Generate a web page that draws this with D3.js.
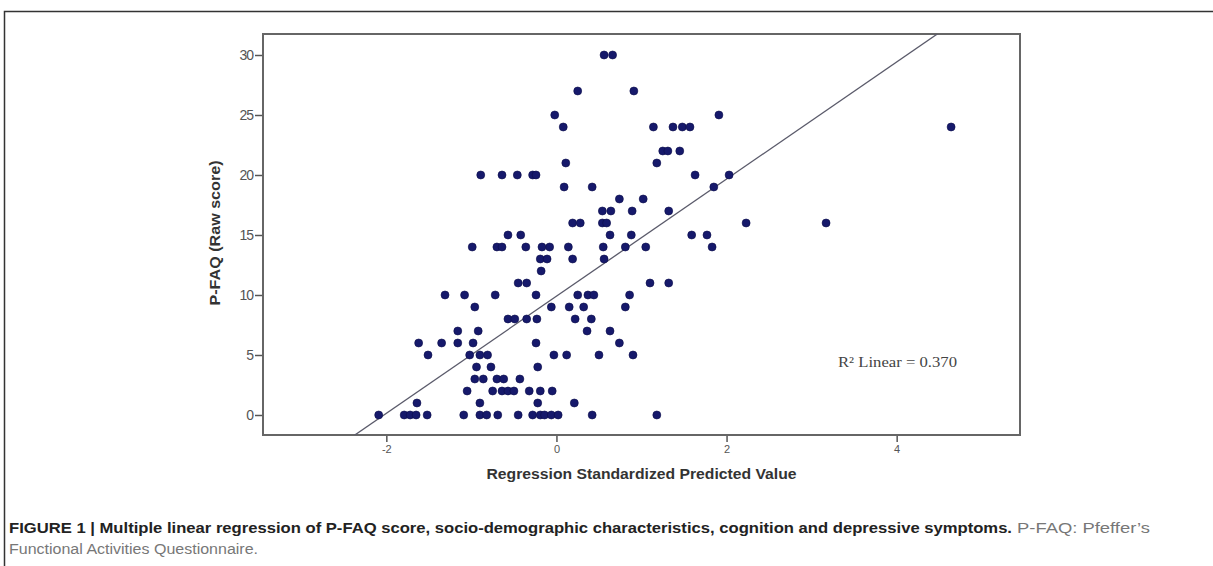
<!DOCTYPE html>
<html>
<head>
<meta charset="utf-8">
<script src="https://cdn.jsdelivr.net/npm/d3@7"></script>
<style>
  body { margin: 0; background: #fff; }
  svg { display: block; }
</style>
</head>
<body>
<div id="chart"></div>
<script>
// P-FAQ raw score (y) for each case, grouped by score
const pfaq = [
  30, 30,
  27, 27,
  25, 25,
  24, 24, 24, 24, 24, 24,
  22, 22, 22,
  21, 21,
  20, 20, 20, 20, 20, 20, 20,
  19, 19, 19,
  18, 18,
  17, 17, 17, 17,
  16, 16, 16, 16, 16, 16,
  15, 15, 15, 15, 15, 15,
  14, 14, 14, 14, 14, 14, 14, 14, 14, 14, 14,
  13, 13, 13, 13,
  12,
  11, 11, 11, 11,
  10, 10, 10, 10, 10, 10, 10, 10,
  9, 9, 9, 9, 9,
  8, 8, 8, 8, 8, 8,
  7, 7, 7, 7,
  6, 6, 6, 6, 6, 6,
  5, 5, 5, 5, 5, 5, 5, 5,
  4, 4, 4,
  3, 3, 3, 3, 3,
  2, 2, 2, 2, 2, 2, 2, 2,
  1, 1, 1, 1,
  0, 0, 0, 0, 0, 0, 0, 0, 0, 0, 0, 0, 0, 0, 0, 0, 0
];
// regression standardized predicted value (x), same order
const predicted = [
  0.56, 0.66,
  0.25, 0.91,
  -0.02, 1.91,
  0.08, 1.14, 1.37, 1.48, 1.57, 4.64,
  1.25, 1.31, 1.45,
  0.11, 1.18,
  -0.89, -0.64, -0.46, -0.28, -0.24, 1.63, 2.03,
  0.09, 0.42, 1.85,
  0.74, 1.02,
  0.54, 0.64, 0.89, 1.32,
  0.19, 0.28, 0.54, 0.59, 2.23, 3.17,
  -0.57, -0.42, 0.63, 0.88, 1.59, 1.77,
  -0.99, -0.70, -0.64, -0.36, -0.17, -0.08, 0.14, 0.55, 0.81, 1.05, 1.83,
  -0.19, -0.11, 0.19, 0.56,
  -0.18,
  -0.45, -0.35, 1.10, 1.32,
  -1.31, -1.08, -0.72, -0.24, 0.25, 0.37, 0.44, 0.86,
  -0.96, -0.06, 0.15, 0.32, 0.81,
  -0.57, -0.49, -0.35, -0.23, 0.22, 0.41,
  -1.16, -0.92, 0.36, 0.63,
  -1.62, -1.35, -1.16, -0.98, -0.24, 0.74,
  -1.51, -1.02, -0.90, -0.81, -0.03, 0.12, 0.50, 0.90,
  -0.94, -0.77, -0.22,
  -0.96, -0.86, -0.70, -0.62, -0.43,
  -1.05, -0.75, -0.64, -0.57, -0.50, -0.32, -0.19, -0.05,
  -1.64, -0.90, -0.22, 0.21,
  -2.09, -1.79, -1.72, -1.65, -1.52, -1.09, -0.90, -0.82, -0.69, -0.45, -0.28, -0.19, -0.14, -0.06, 0.02, 0.42, 1.18
];
const yTicks = [0, 5, 10, 15, 20, 25, 30];
const xTicks = [-2, 0, 2, 4];
const fitIntercept = 9.9;
const fitSlope = 4.88;
const r2Label = "R² Linear = 0.370";
const xTitle = "Regression Standardized Predicted Value";
const yTitle = "P-FAQ (Raw score)";
const captionBold = "FIGURE 1 | Multiple linear regression of P-FAQ score, socio-demographic characteristics, cognition and depressive symptoms.";
const captionPlain1 = "P-FAQ: Pfeffer’s";
const captionPlain2 = "Functional Activities Questionnaire.";

const W = 1213, H = 566;
const plot = {left: 263, top: 34, right: 1020, bottom: 435};
const sans = "'Liberation Sans', Arial, sans-serif";

const svg = d3.select("#chart").append("svg")
    .attr("width", W)
    .attr("height", H);

// outer figure frame (top + left edges)
svg.append("path")
    .attr("d", "M4.5," + H + " V11.5 H" + W)
    .attr("fill", "none")
    .attr("stroke", "#333")
    .attr("stroke-width", 1.5);

let x = d3.scaleLinear()
    .domain([-3.45, 5.45])
    .range([plot.left, plot.right]);

let y = d3.scaleLinear()
    .domain([-1.667, 31.75])
    .range([plot.bottom, plot.top]);

svg.append("defs").append("clipPath")
    .attr("id", "clip")
    .append("rect")
    .attr("x", plot.left)
    .attr("y", plot.top)
    .attr("width", plot.right - plot.left)
    .attr("height", plot.bottom - plot.top);

// axes
let yAxis = svg.append("g")
    .attr("transform", "translate(" + plot.left + ",0)")
    .call(d3.axisLeft(y).tickValues(yTicks).tickSize(8).tickPadding(2));
let xAxis = svg.append("g")
    .attr("transform", "translate(0," + plot.bottom + ")")
    .call(d3.axisBottom(x).tickValues(xTicks).tickSize(7).tickPadding(3)
        .tickFormat(d => d < 0 ? "-" + Math.abs(d) : d));
[yAxis, xAxis].forEach(a => {
    a.select(".domain").remove();
    a.selectAll(".tick line").attr("stroke", "#555").attr("stroke-width", 1.5);
    a.selectAll(".tick text")
        .attr("fill", "#555")
        .style("font-family", sans);
});
yAxis.selectAll(".tick text").style("font-size", "14px").style("letter-spacing", "-1px");
xAxis.selectAll(".tick text").style("font-size", "11px");

// plot frame
svg.append("rect")
    .attr("x", plot.left)
    .attr("y", plot.top)
    .attr("width", plot.right - plot.left)
    .attr("height", plot.bottom - plot.top)
    .attr("fill", "none")
    .attr("stroke", "#666")
    .attr("stroke-width", 2);

// fit line
let xd = x.domain();
svg.append("line")
    .attr("clip-path", "url(#clip)")
    .attr("x1", x(xd[0]))
    .attr("y1", y(fitIntercept + fitSlope * xd[0]))
    .attr("x2", x(xd[1]))
    .attr("y2", y(fitIntercept + fitSlope * xd[1]))
    .attr("stroke", "#5a5a6a")
    .attr("stroke-width", 1.3);

// points
svg.append("g").selectAll("circle")
    .data(predicted.map((p, i) => ({x: p, y: pfaq[i]})))
    .enter()
    .append("circle")
    .attr("cx", d => x(d.x))
    .attr("cy", d => y(d.y))
    .attr("r", 4)
    .attr("fill", "#16196b")
    .attr("stroke", "#0c0e4a")
    .attr("stroke-width", 0.6);

// R2 annotation
svg.append("text")
    .attr("x", 838)
    .attr("y", 367)
    .attr("textLength", 119)
    .attr("lengthAdjust", "spacingAndGlyphs")
    .style("font-family", "'Liberation Serif', serif")
    .style("font-size", "15px")
    .attr("fill", "#444")
    .text(r2Label);

// axis titles
svg.append("text")
    .attr("x", (plot.left + plot.right) / 2)
    .attr("y", 479)
    .attr("text-anchor", "middle")
    .attr("textLength", 310)
    .attr("lengthAdjust", "spacingAndGlyphs")
    .style("font-family", sans)
    .style("font-size", "14px")
    .style("font-weight", "bold")
    .attr("fill", "#333")
    .text(xTitle);

svg.append("text")
    .attr("transform", "translate(220,233) rotate(-90)")
    .attr("text-anchor", "middle")
    .attr("textLength", 145)
    .attr("lengthAdjust", "spacingAndGlyphs")
    .style("font-family", sans)
    .style("font-size", "14px")
    .style("font-weight", "bold")
    .attr("fill", "#333")
    .text(yTitle);

// caption
let cap = svg.append("text")
    .attr("y", 533)
    .style("font-family", sans)
    .style("font-size", "15.5px");
cap.append("tspan")
    .attr("x", 9)
    .attr("textLength", 1003)
    .attr("lengthAdjust", "spacingAndGlyphs")
    .style("font-weight", "bold")
    .attr("fill", "#222")
    .text(captionBold);
cap.append("tspan")
    .attr("x", 1017)
    .attr("textLength", 133)
    .attr("lengthAdjust", "spacingAndGlyphs")
    .attr("fill", "#777")
    .text(captionPlain1);

svg.append("text")
    .attr("x", 9)
    .attr("y", 554)
    .attr("textLength", 249)
    .attr("lengthAdjust", "spacingAndGlyphs")
    .style("font-family", sans)
    .style("font-size", "15.5px")
    .attr("fill", "#777")
    .text(captionPlain2);
</script>
</body>
</html>
